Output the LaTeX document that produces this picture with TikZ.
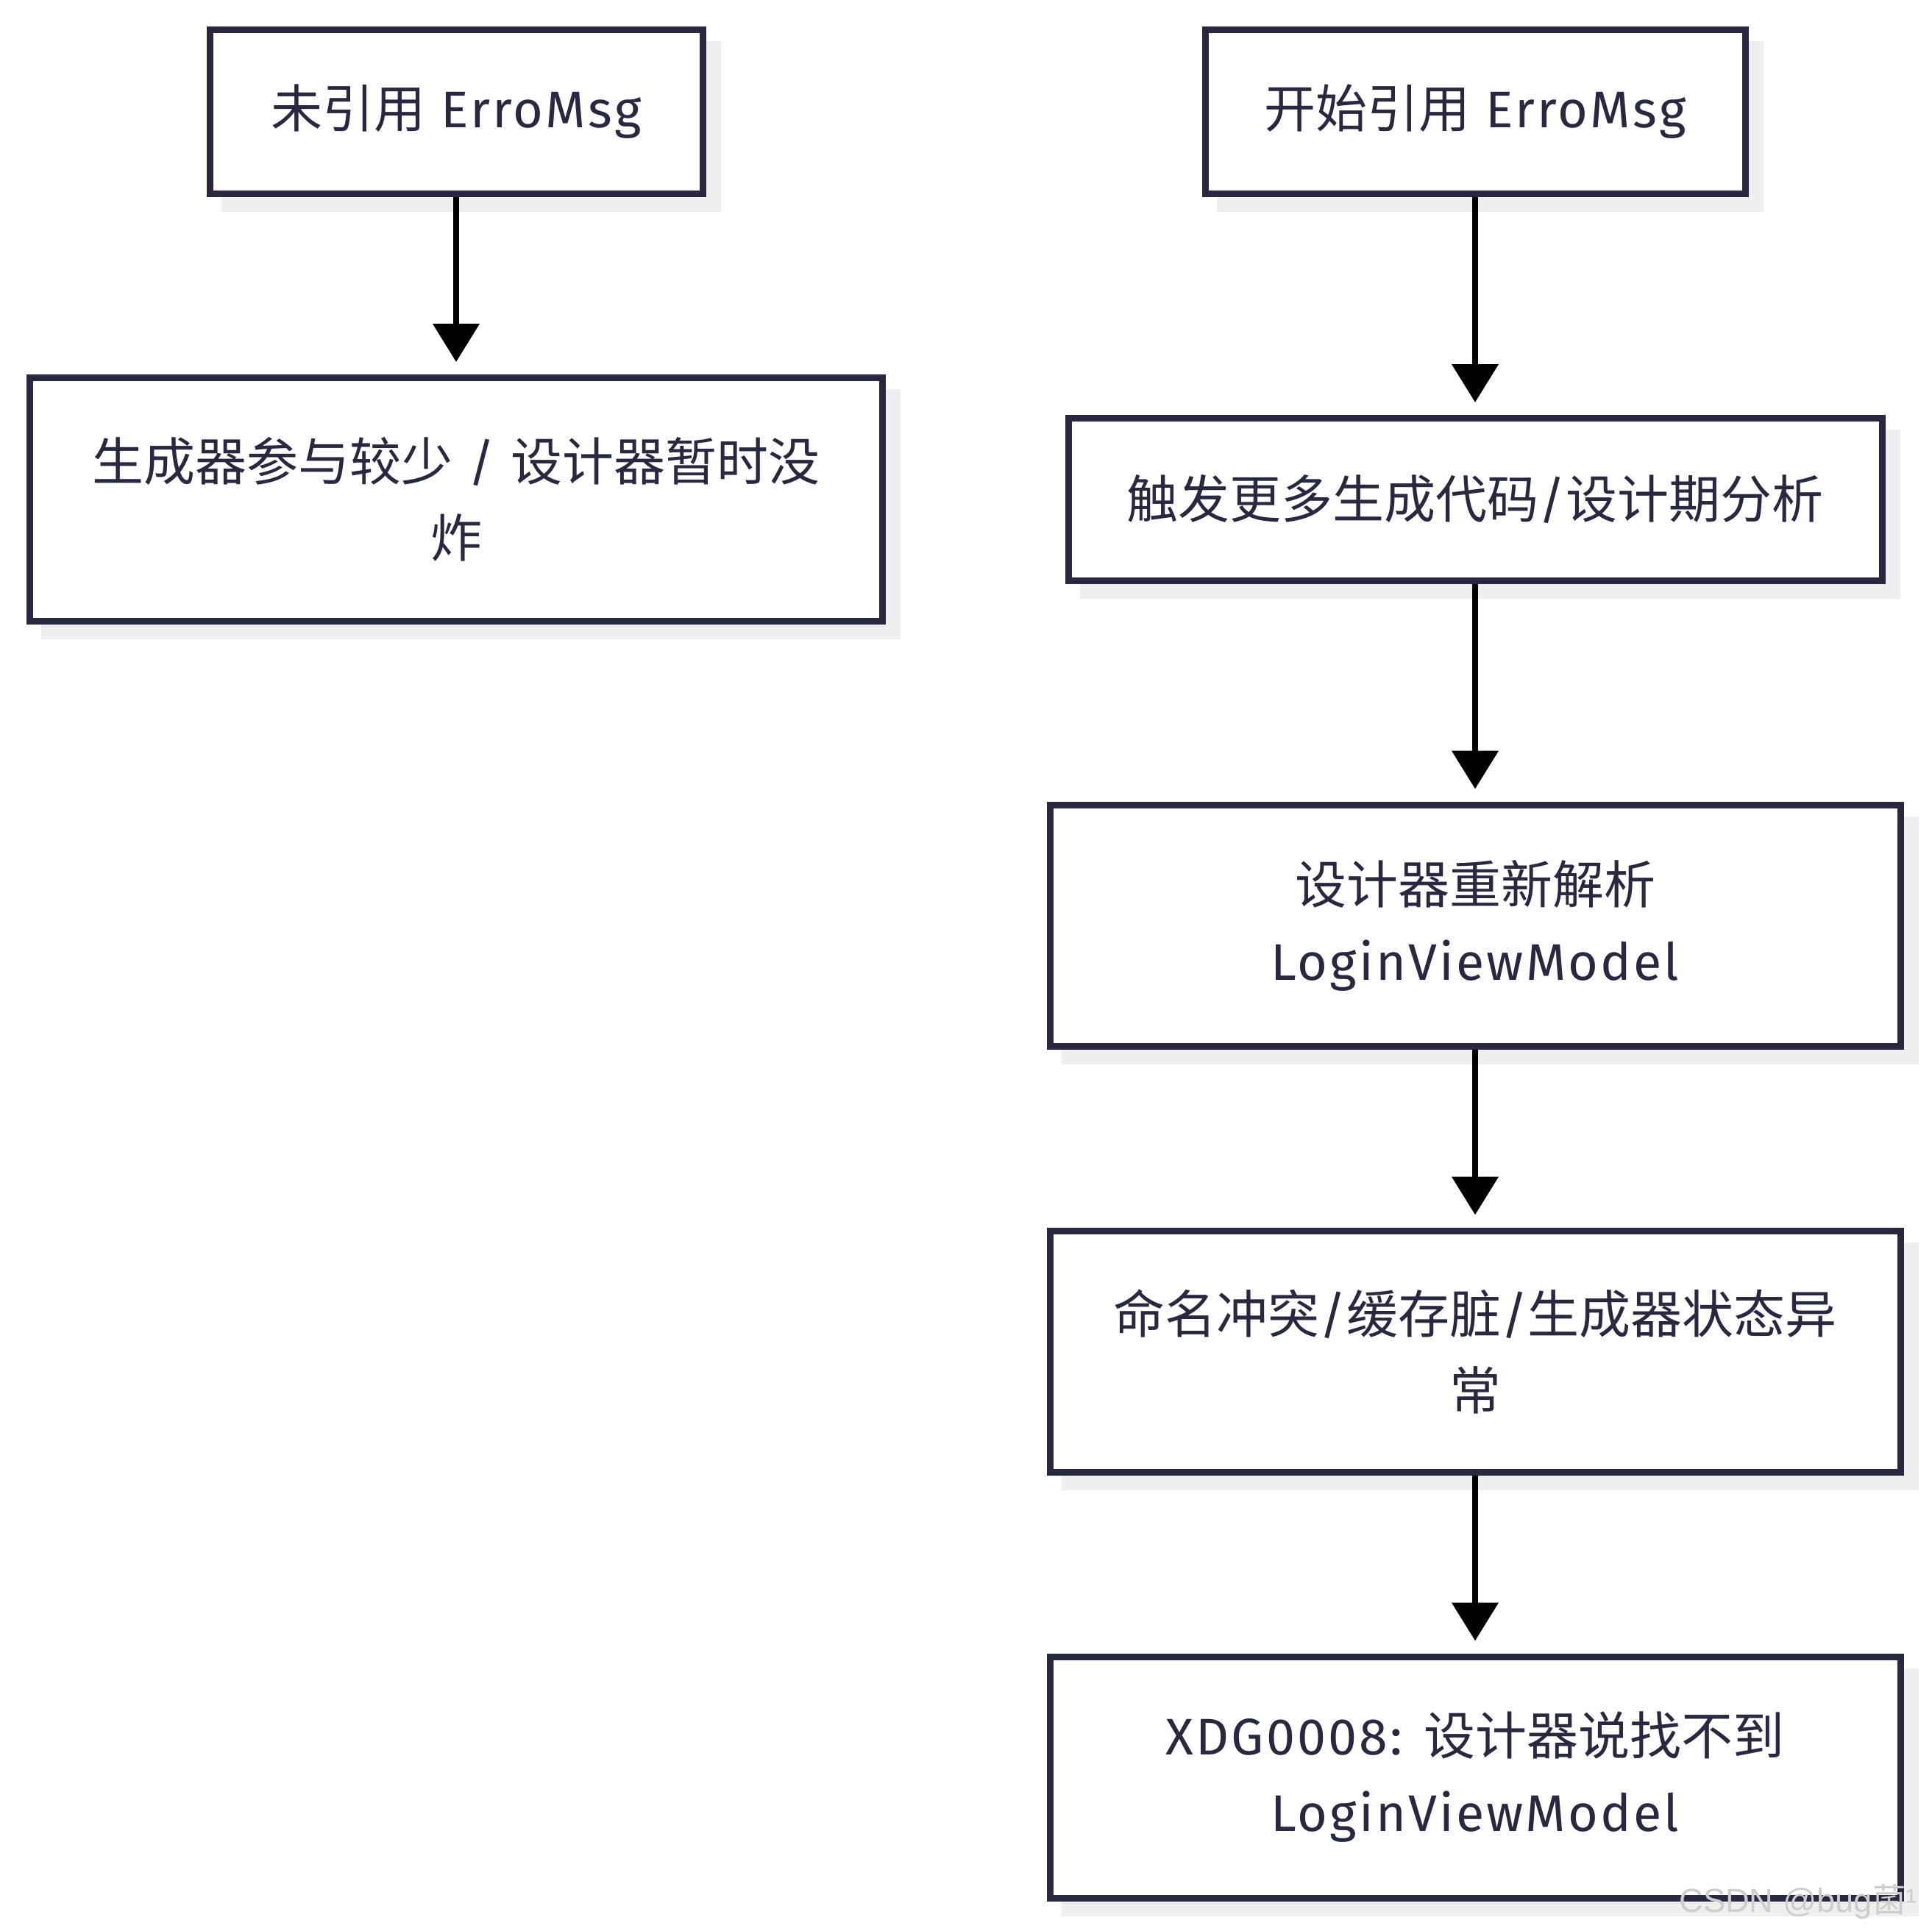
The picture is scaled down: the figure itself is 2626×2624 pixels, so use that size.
\documentclass[tikz,border=0pt]{standalone}
\usepackage{fontspec}
\setmainfont[LetterSpace=4.5]{Fira Sans}
\newfontfamily\zhfont{Noto Sans CJK SC}
\newfontfamily\wmfont{Liberation Sans}
\usetikzlibrary{arrows.meta,backgrounds}
\definecolor{boxline}{HTML}{282840}
\definecolor{shadowc}{HTML}{EFEFEF}
\definecolor{wmc}{HTML}{CDCDCD}
\newcommand{\zh}[1]{{\zhfont #1}}
\begin{document}
\begin{tikzpicture}[x=0.75pt,y=-0.75pt,
  box/.style={draw=boxline, line width=6.75pt, fill=white, text=boxline, align=center, inner sep=0pt,
    font=\fontsize{52.5pt}{78pt}\selectfont},
  flow/.style={line width=6pt, -{Triangle[length=39pt,width=46.5pt]}, shorten >=12.75pt}]
\useasboundingbox (0,0) rectangle (2626,2624);
\node[box, minimum width=502.5pt, minimum height=167.25pt] (A) at (620,152) {\zh{未引用} ErroMsg};
\node[box, minimum width=869.25pt, minimum height=248.25pt] (B) at (620,679) {\zh{生成器参与较少} / \zh{设计器暂时没}\\\zh{炸}};
\node[box, minimum width=550.5pt, minimum height=167.25pt] (C) at (2005,152) {\zh{开始引用} ErroMsg};
\node[box, minimum width=829.5pt, minimum height=165.75pt] (D) at (2005,679) {\zh{触发更多生成代码}/\zh{设计期分析}};
\node[box, minimum width=867pt, minimum height=246pt] (E) at (2005,1258) {\zh{设计器重新解析}\\LoginViewModel};
\node[box, minimum width=867pt, minimum height=246pt] (F) at (2005,1837) {\zh{命名冲突}/\zh{缓存脏}/\zh{生成器状态异}\\\zh{常}};
\node[box, minimum width=867pt, minimum height=246pt] (G) at (2005,2416) {XDG0008: \zh{设计器说找不到}\\LoginViewModel};
\begin{scope}[on background layer]
\foreach \n in {A,B,C,D,E,F,G}
  \fill[shadowc] ([shift={(20,20)}]\n.north west) rectangle ([shift={(20,20)}]\n.south east);
\end{scope}
\draw[flow] (A) -- (B);
\draw[flow] (C) -- (D);
\draw[flow] (D) -- (E);
\draw[flow] (E) -- (F);
\draw[flow] (F) -- (G);
\node[anchor=base west, inner sep=0pt, text=wmc, font=\wmfont\fontsize{34pt}{36pt}\selectfont] (wm) at (2282,2599) {CSDN @bug\zh{菌}¹};
\end{tikzpicture}
\end{document}
